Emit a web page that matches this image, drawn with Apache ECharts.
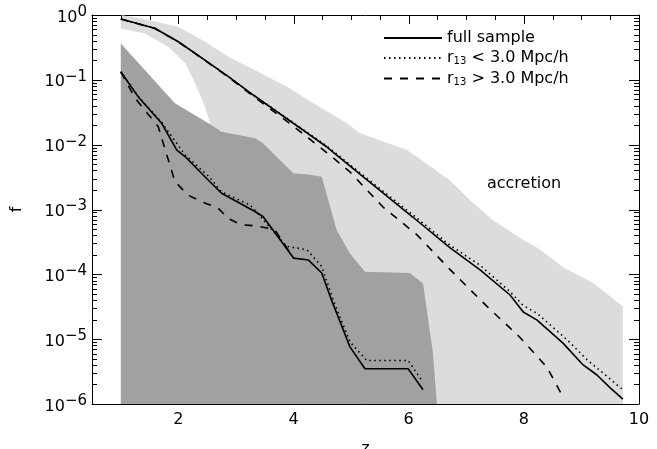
<!DOCTYPE html>
<html>
<head>
<meta charset="utf-8">
<script src="https://cdn.jsdelivr.net/npm/echarts@6/dist/echarts.min.js"></script>
<style>
  html, body { margin: 0; padding: 0; background: #fff; }
  #chart { width: 657px; height: 449px; }
</style>
</head>
<body>
<div id="chart"></div>
<script>
// all haloes (upper curves)
const fullZ = [1.0, 1.59, 2.0, 2.46, 2.87, 3.30, 3.99, 4.58, 5.28, 6.07, 6.72, 7.24, 7.76, 7.99, 8.23, 8.68, 9.03, 9.27, 9.50, 9.72]
const fullF = [0.867, 0.624, 0.387, 0.202, 0.112, 0.0583, 0.0216, 0.0092, 0.00285, 7.66e-4, 2.55e-4, 1.17e-4, 4.8e-5, 2.62e-5, 1.97e-5, 8.7e-6, 4.0e-6, 2.8e-6, 1.77e-6, 1.19e-6]
const nearZ = [1.0, 1.59, 2.0, 2.46, 2.87, 3.30, 3.99, 4.58, 5.28, 6.07, 6.72, 7.24, 7.76, 7.99, 8.23, 8.75, 9.10, 9.72]
const nearF = [0.867, 0.624, 0.387, 0.202, 0.112, 0.0585, 0.022, 0.0095, 0.003, 8.3e-4, 2.8e-4, 1.38e-4, 5.4e-5, 3.3e-5, 2.5e-5, 9.8e-6, 4.8e-6, 1.66e-6]
const farZ = [1.0, 1.59, 2.0, 2.46, 2.87, 3.30, 3.99, 4.58, 4.98, 5.55, 6.14, 6.72, 7.36, 7.93, 8.40, 8.68]
const farF = [0.867, 0.62, 0.385, 0.2, 0.11, 0.056, 0.0195, 0.0075, 0.0038, 0.0011, 4.1e-4, 1.18e-4, 3.2e-5, 1.07e-5, 3.7e-6, 1.29e-6]

// mergers (lower curves)
const mFullZ = [1.0, 1.30, 1.71, 1.97, 2.12, 2.46, 2.75, 3.33, 3.47, 4.0, 4.26, 4.49, 4.66, 4.98, 5.24, 5.99, 6.25]
const mFullF = [0.133, 0.055, 0.0214, 0.0083, 0.0065, 0.0032, 0.00178, 9.3e-4, 7.8e-4, 1.78e-4, 1.66e-4, 1.05e-4, 4.0e-5, 7.6e-6, 3.5e-6, 3.5e-6, 1.66e-6]
const mNearZ = [1.0, 1.30, 1.71, 2.12, 2.55, 2.75, 3.25, 3.88, 4.23, 4.49, 4.69, 4.98, 5.27, 5.99, 6.23]
const mNearF = [0.133, 0.056, 0.022, 0.0069, 0.0031, 0.00186, 0.00117, 2.7e-4, 2.4e-4, 1.32e-4, 4.0e-5, 9.1e-6, 4.7e-6, 4.7e-6, 2.3e-6]
const mFarZ = [1.0, 1.25, 1.65, 1.80, 1.94, 2.17, 2.46, 2.69, 2.87, 3.10, 3.33, 3.59, 3.68, 4.0]
const mFarF = [0.133, 0.052, 0.019, 0.0069, 0.0027, 0.00166, 0.00126, 0.00105, 7.2e-4, 5.8e-4, 5.6e-4, 5.1e-4, 4.8e-4, 1.78e-4]

// shaded ranges
const accUpZ = [1.0, 1.5, 1.99, 2.46, 2.86, 3.33, 3.89, 4.23, 4.93, 5.15, 5.97, 6.14, 6.72, 7.06, 7.46, 7.99, 8.23, 8.68, 9.20, 9.72]
const accUpF = [1.0, 0.83, 0.66, 0.39, 0.23, 0.141, 0.078, 0.050, 0.0214, 0.0151, 0.0083, 0.0065, 0.0028, 0.0014, 6.9e-4, 3.4e-4, 2.6e-4, 1.29e-4, 7.4e-5, 3.2e-5]
const accLoZ = [1.0, 1.42, 1.83, 2.12, 2.29, 2.46, 2.55, 2.6, 9.72]
const accLoF = [0.62, 0.52, 0.32, 0.18, 0.089, 0.039, 0.0214, 1e-6, 1e-6]
const merUpZ = [1.0, 1.94, 2.58, 2.75, 3.33, 3.47, 4.0, 4.23, 4.49, 4.75, 4.98, 5.24, 6.02, 6.25, 6.42, 6.49]
const merUpF = [0.365, 0.0437, 0.02, 0.0158, 0.0126, 0.0105, 0.0036, 0.0035, 0.0032, 4.8e-4, 2.1e-4, 1.1e-4, 1.05e-4, 7.2e-5, 6.2e-6, 1e-6]
const merLoZ = [1.0, 6.49]
const merLoF = [1e-6, 1e-6]

// tick positions
const xMajor = [2, 4, 6, 8, 10]
const xMinor = [1, 1.5, 2.5, 3, 3.5, 4.5, 5, 5.5, 6.5, 7, 7.5, 8.5, 9, 9.5]
const yMajor = [1e-6, 1e-5, 1e-4, 1e-3, 1e-2, 1e-1, 1]
const yMinor = []
for (let d = -6; d < 0; d++) {
  for (let k = 2; k <= 9; k++) yMinor.push(k * Math.pow(10, d))
}

const FONT = 'DejaVu Sans'
const X0 = 0.5, X1 = 10, Y0 = 1e-6, Y1 = 1
const pairs = (zs, fs) => zs.map((z, i) => [z, fs[i]])

function band (upZ, upF, loZ, loF, fill) {
  return {
    type: 'custom',
    silent: true,
    data: [[1, 0.5]],
    z: 1,
    renderItem: function (params, api) {
      let pts = []
      upZ.forEach((z, i) => pts.push(api.coord([z, upF[i]])))
      for (let i = loZ.length - 1; i >= 0; i--) pts.push(api.coord([loZ[i], loF[i]]))
      return { type: 'polygon', shape: { points: pts }, style: { fill: fill, stroke: null } }
    }
  }
}

// inward tick marks on the frame, placed through the axes' scales (thin filled rects)
function ticks (sides) {
  return {
    type: 'custom',
    silent: true,
    data: [[1, 0.5]],
    z: 1,
    renderItem: function (params, api) {
      const tl = api.coord([X0, Y1]), br = api.coord([X1, Y0])
      const kids = []
      const box = (x, y, w, h) => kids.push({ type: 'rect', shape: { x: x, y: y, width: w, height: h }, style: { fill: '#000' } })
      const py = v => Math.round(api.coord([X0, v])[1])
      const px = v => Math.round(api.coord([v, Y0])[0])
      yMajor.concat(yMinor).forEach(v => {
        const len = yMajor.includes(v) ? 10 : 5
        const y = py(v)
        if (sides.includes('left')) box(tl[0], y, len, 1)
        if (sides.includes('right')) box(br[0] - len, y, len, 1)
      })
      xMajor.concat(xMinor).forEach(v => {
        const len = xMajor.includes(v) ? 9 : 5
        const x = px(v)
        if (sides.includes('top')) box(x, tl[1], 1, len)
        if (sides.includes('bottom')) box(x, br[1] - len, 1, len)
      })
      return { type: 'group', children: kids }
    }
  }
}

function curve (name, zs, fs, type) {
  return {
    name: name,
    type: 'line',
    data: pairs(zs, fs),
    symbol: 'none',
    z: 3,
    itemStyle: { color: '#000' },
    lineStyle: { color: '#000', width: 1.6, type: type }
  }
}

const frameLine = { show: true, onZero: false, lineStyle: { color: '#000', width: 1 } }

const chart = echarts.init(document.getElementById('chart'))
chart.setOption({
  animation: false,
  grid: { left: 92, right: 18, top: 15, bottom: 45, outerBoundsMode: 'none' },
  legend: {
    left: 378, top: 25, orient: 'vertical',
    itemWidth: 58, itemHeight: 14, itemGap: 4,
    data: ['full sample', 'r13 < 3.0 Mpc/h', 'r13 > 3.0 Mpc/h'],
    itemStyle: { opacity: 0 },
    formatter: name => name.replace('r13', 'r{sub|13}'),
    textStyle: {
      fontFamily: FONT, fontSize: 16, color: '#000',
      rich: { sub: { fontFamily: FONT, fontSize: 10, color: '#000', verticalAlign: 'top', padding: [7, 0, 0, 0] } }
    }
  },
  xAxis: [
    {
      type: 'value', min: X0, max: X1, position: 'bottom',
      name: 'z', nameLocation: 'middle', nameGap: 37,
      nameTextStyle: { fontFamily: FONT, fontSize: 16, color: '#000' },
      axisLine: frameLine,
      axisTick: { show: false },
      axisLabel: { customValues: xMajor, margin: 8, fontFamily: FONT, fontSize: 16, color: '#000' },
      splitLine: { show: false }
    },
    {
      type: 'value', min: X0, max: X1, position: 'top',
      axisLine: frameLine, axisTick: { show: false }, axisLabel: { show: false }, splitLine: { show: false }
    }
  ],
  yAxis: [
    {
      type: 'log', logBase: 10, min: Y0, max: Y1, position: 'left',
      name: 'f', nameLocation: 'middle', nameRotate: 90, nameGap: 67,
      nameTextStyle: { fontFamily: FONT, fontSize: 16, color: '#000' },
      axisLine: frameLine,
      axisTick: { show: false },
      axisLabel: {
        margin: 5,
        formatter: function (v) {
          let e = Math.round(Math.log10(v))
          return '{b|10}{s|' + (e < 0 ? '\u2212' + (-e) : e) + '}'
        },
        rich: {
          b: { fontFamily: FONT, fontSize: 16, color: '#000', verticalAlign: 'bottom' },
          s: { fontFamily: FONT, fontSize: 15, color: '#000', verticalAlign: 'bottom', padding: [0, 0, 6, 0] }
        }
      },
      splitLine: { show: false }
    },
    {
      type: 'log', logBase: 10, min: Y0, max: Y1, position: 'right',
      axisLine: frameLine, axisTick: { show: false }, axisLabel: { show: false }, splitLine: { show: false }
    }
  ],
  graphic: [
    { type: 'text', x: 524, y: 184, style: { text: 'accretion', fontFamily: FONT, fontSize: 16, fill: '#000', align: 'center', verticalAlign: 'middle' } },
    { type: 'text', x: 270, y: 335, style: { text: 'mergers', fontFamily: FONT, fontSize: 16, fill: '#000', align: 'center', verticalAlign: 'middle' } }
  ],
  series: [
    ticks(['bottom']),
    band(accUpZ, accUpF, accLoZ, accLoF, '#dcdcdc'),
    band(merUpZ, merUpF, merLoZ, merLoF, '#a1a1a1'),
    ticks(['left', 'right', 'top']),
    curve('full sample', fullZ, fullF, 'solid'),
    curve('r13 < 3.0 Mpc/h', nearZ, nearF, [1.5, 3.5]),
    curve('r13 > 3.0 Mpc/h', farZ, farF, [8, 8]),
    curve('full sample', mFullZ, mFullF, 'solid'),
    curve('r13 < 3.0 Mpc/h', mNearZ, mNearF, [1.5, 3.5]),
    curve('r13 > 3.0 Mpc/h', mFarZ, mFarF, [8, 8])
  ]
})
</script>
</body>
</html>
